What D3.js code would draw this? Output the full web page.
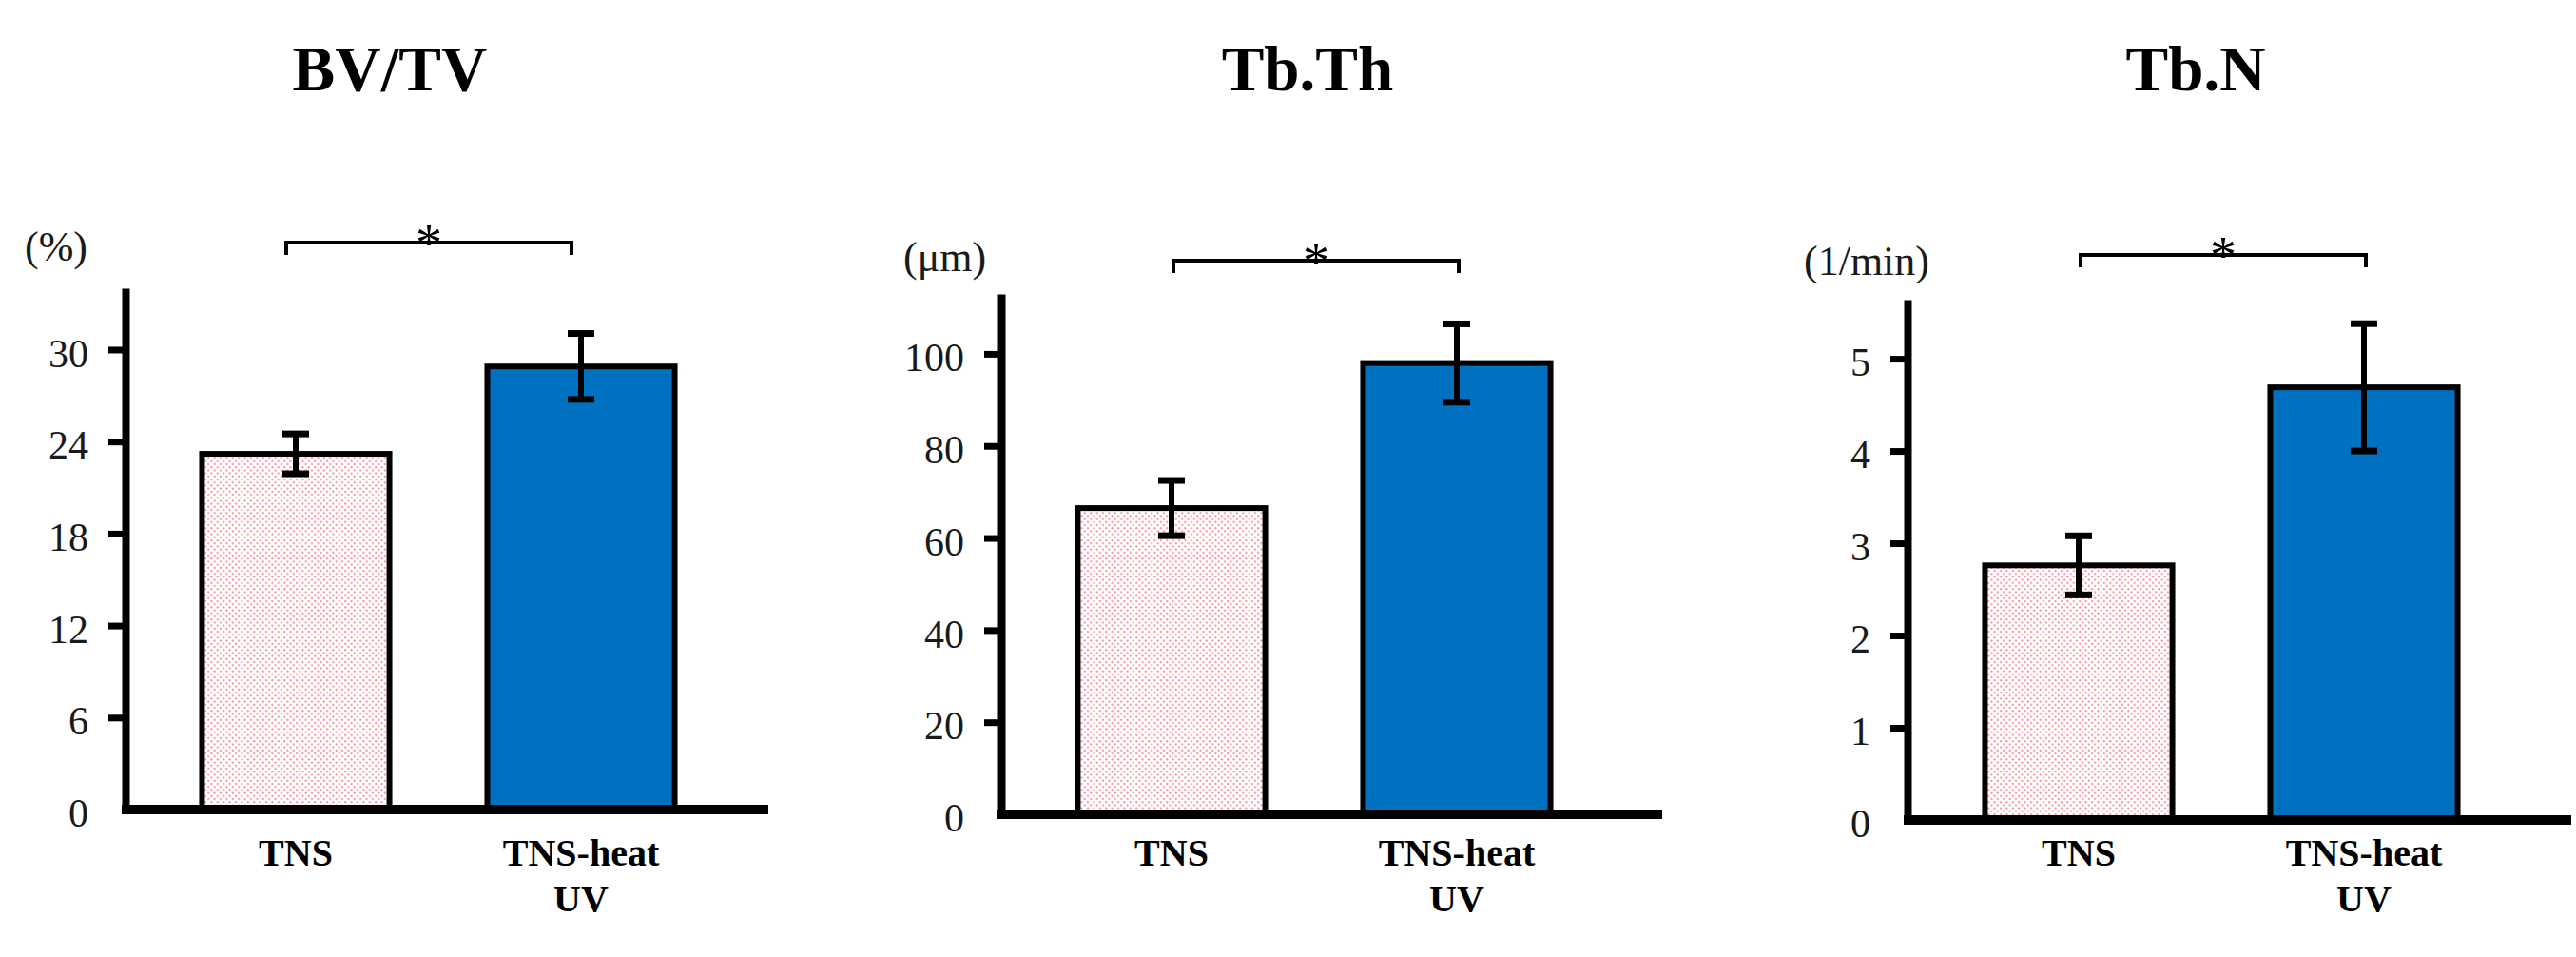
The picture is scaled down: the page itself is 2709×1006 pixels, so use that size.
<!DOCTYPE html>
<html>
<meta charset="utf-8"/>
<head>
  <title>BV/TV, Tb.Th, Tb.N</title>
  <style>
    body { margin: 0; background: #fff; }
    svg { display: block; }
    text { font-family: "Liberation Serif", "Times New Roman", serif; }
    .title { font-size: 67px; font-weight: bold; }
    .unit { font-size: 44px; fill: #1a1a1a; }
    .tick text { font-size: 42px; fill: #1a1a1a; font-family: "Liberation Serif", serif; }
    .cat { font-size: 40px; font-weight: bold; }
  </style>
</head>
<body>
<svg width="2709" height="1006"></svg>
<script src="https://d3js.org/d3.v7.min.js"></script>
<script>
// data
var panelTitles = ["BV/TV", "Tb.Th", "Tb.N"];
var unitLabels = ["(%)", "(μm)", "(1/min)"];
var groups = ["TNS", "TNS-heat UV"];

var bvtvMean = [23.2, 28.9];
var bvtvErr = [1.3, 2.15];
var tbthMean = [66.5, 98.0];
var tbthErr = [6.0, 8.5];
var tbnMean = [2.76, 4.69];
var tbnErr = [0.32, 0.69];

var bvtvTicks = [0, 6, 12, 18, 24, 30];
var tbthTicks = [0, 20, 40, 60, 80, 100];
var tbnTicks = [0, 1, 2, 3, 4, 5];
var axisMax = [34, 113, 5.64];

var means = [bvtvMean, tbthMean, tbnMean];
var errs = [bvtvErr, tbthErr, tbnErr];
var ticks = [bvtvTicks, tbthTicks, tbnTicks];

// where each panel sits on the page
var layout = [
  {axisX: 132, top: 303, zeroY: 851, end: 808, band: [161, 761], titleX: 410, unitX: 26, unitY: 274, bracketY: 255, bracketShift: -10},
  {axisX: 1053, top: 309, zeroY: 856, end: 1748, band: [1082, 1682], titleX: 1375, unitX: 950, unitY: 285, bracketY: 274, bracketShift: 2},
  {axisX: 2006, top: 315, zeroY: 862, end: 2704, band: [2036, 2636], titleX: 2309, unitX: 1897, unitY: 289, bracketY: 268, bracketShift: 2}
];

var barFill = ["url(#dots)", "#0070c0"];

var svg = d3.select("svg");

// pink dotted fill for the TNS bars
var pat = svg.append("defs").append("pattern")
    .attr("id", "dots")
    .attr("patternUnits", "userSpaceOnUse")
    .attr("width", 6.4).attr("height", 6.4);
pat.append("rect").attr("width", 6.4).attr("height", 6.4).attr("fill", "#fff");
pat.append("circle").attr("cx", 1.6).attr("cy", 1.6).attr("r", 1.1).attr("fill", "#f48f9d");
pat.append("circle").attr("cx", 4.8).attr("cy", 4.8).attr("r", 1.1).attr("fill", "#f48f9d");

function drawPanel(i) {
  var L = layout[i];
  var g = svg.append("g");

  var y = d3.scaleLinear().domain([0, axisMax[i]]).range([L.zeroY, L.top]);
  var x = d3.scaleBand().domain(groups).range(L.band)
      .paddingInner(0.343).paddingOuter(0.1715);

  var rows = groups.map(function(d, j) {
    return {name: d, mean: means[i][j], err: errs[i][j], fill: barFill[j]};
  });

  // title
  g.append("text").attr("class", "title")
      .attr("x", L.titleX).attr("y", 95)
      .attr("text-anchor", "middle")
      .text(panelTitles[i]);

  // unit
  g.append("text").attr("class", "unit")
      .attr("x", L.unitX).attr("y", L.unitY)
      .text(unitLabels[i]);

  // bars
  g.selectAll("rect.bar").data(rows).enter().append("rect")
      .attr("class", "bar")
      .attr("x", function(d) { return x(d.name); })
      .attr("width", x.bandwidth())
      .attr("y", function(d) { return y(d.mean); })
      .attr("height", function(d) { return y(0) - y(d.mean); })
      .attr("fill", function(d) { return d.fill; })
      .attr("stroke", "#000")
      .attr("stroke-width", 6);

  // error bars
  var eb = g.selectAll("g.err").data(rows).enter().append("g").attr("class", "err");
  eb.append("line")
      .attr("x1", function(d) { return x(d.name) + x.bandwidth() / 2; })
      .attr("x2", function(d) { return x(d.name) + x.bandwidth() / 2; })
      .attr("y1", function(d) { return y(d.mean + d.err); })
      .attr("y2", function(d) { return y(d.mean - d.err); })
      .attr("stroke", "#000").attr("stroke-width", 6);
  [1, -1].forEach(function(s) {
    eb.append("line")
        .attr("x1", function(d) { return x(d.name) + x.bandwidth() / 2 - 14; })
        .attr("x2", function(d) { return x(d.name) + x.bandwidth() / 2 + 14; })
        .attr("y1", function(d) { return y(d.mean + s * d.err); })
        .attr("y2", function(d) { return y(d.mean + s * d.err); })
        .attr("stroke", "#000").attr("stroke-width", 7);
  });

  // y axis
  var ax = g.append("g")
      .attr("transform", "translate(" + L.axisX + ",0)")
      .call(d3.axisLeft(y).tickValues(ticks[i]).tickSize(18).tickSizeOuter(0).tickPadding(21)
        .tickFormat(d3.format("d")));
  ax.select(".domain").attr("stroke", "#000").attr("stroke-width", 8);
  ax.selectAll(".tick line").attr("stroke", "#000").attr("stroke-width", 7)
      .filter(function(d) { return d === 0; }).remove();
  ax.selectAll(".tick text").attr("dy", "0.42em");

  // x axis line
  g.append("line")
      .attr("x1", L.axisX - 4).attr("x2", L.end)
      .attr("y1", y(0)).attr("y2", y(0))
      .attr("stroke", "#000").attr("stroke-width", 10);

  // category labels
  var lab = g.selectAll("text.cat").data(rows).enter().append("text")
      .attr("class", "cat")
      .attr("text-anchor", "middle")
      .attr("x", function(d) { return x(d.name) + x.bandwidth() / 2; })
      .attr("y", 910);
  lab.each(function(d) {
    var parts = d.name.split(" ");
    var t = d3.select(this);
    parts.forEach(function(p, k) {
      t.append("tspan")
          .attr("x", x(d.name) + x.bandwidth() / 2)
          .attr("dy", k == 0 ? 0 : 48)
          .text(p);
    });
  });

  // significance bracket
  var x1 = x(groups[0]) + x.bandwidth() / 2 + L.bracketShift;
  var x2 = x(groups[1]) + x.bandwidth() / 2 + L.bracketShift;
  g.append("path")
      .attr("d", "M" + x1 + "," + (L.bracketY + 13) + "V" + L.bracketY + "H" + x2 + "V" + (L.bracketY + 13))
      .attr("fill", "none").attr("stroke", "#000").attr("stroke-width", 4);
  g.append("text")
      .attr("x", (x1 + x2) / 2).attr("y", L.bracketY + 20)
      .attr("text-anchor", "middle")
      .style("font-size", "56px")
      .text("*");
}

for (var i = 0; i < 3; i++) {
  drawPanel(i);
}
</script>
</body>
</html>
